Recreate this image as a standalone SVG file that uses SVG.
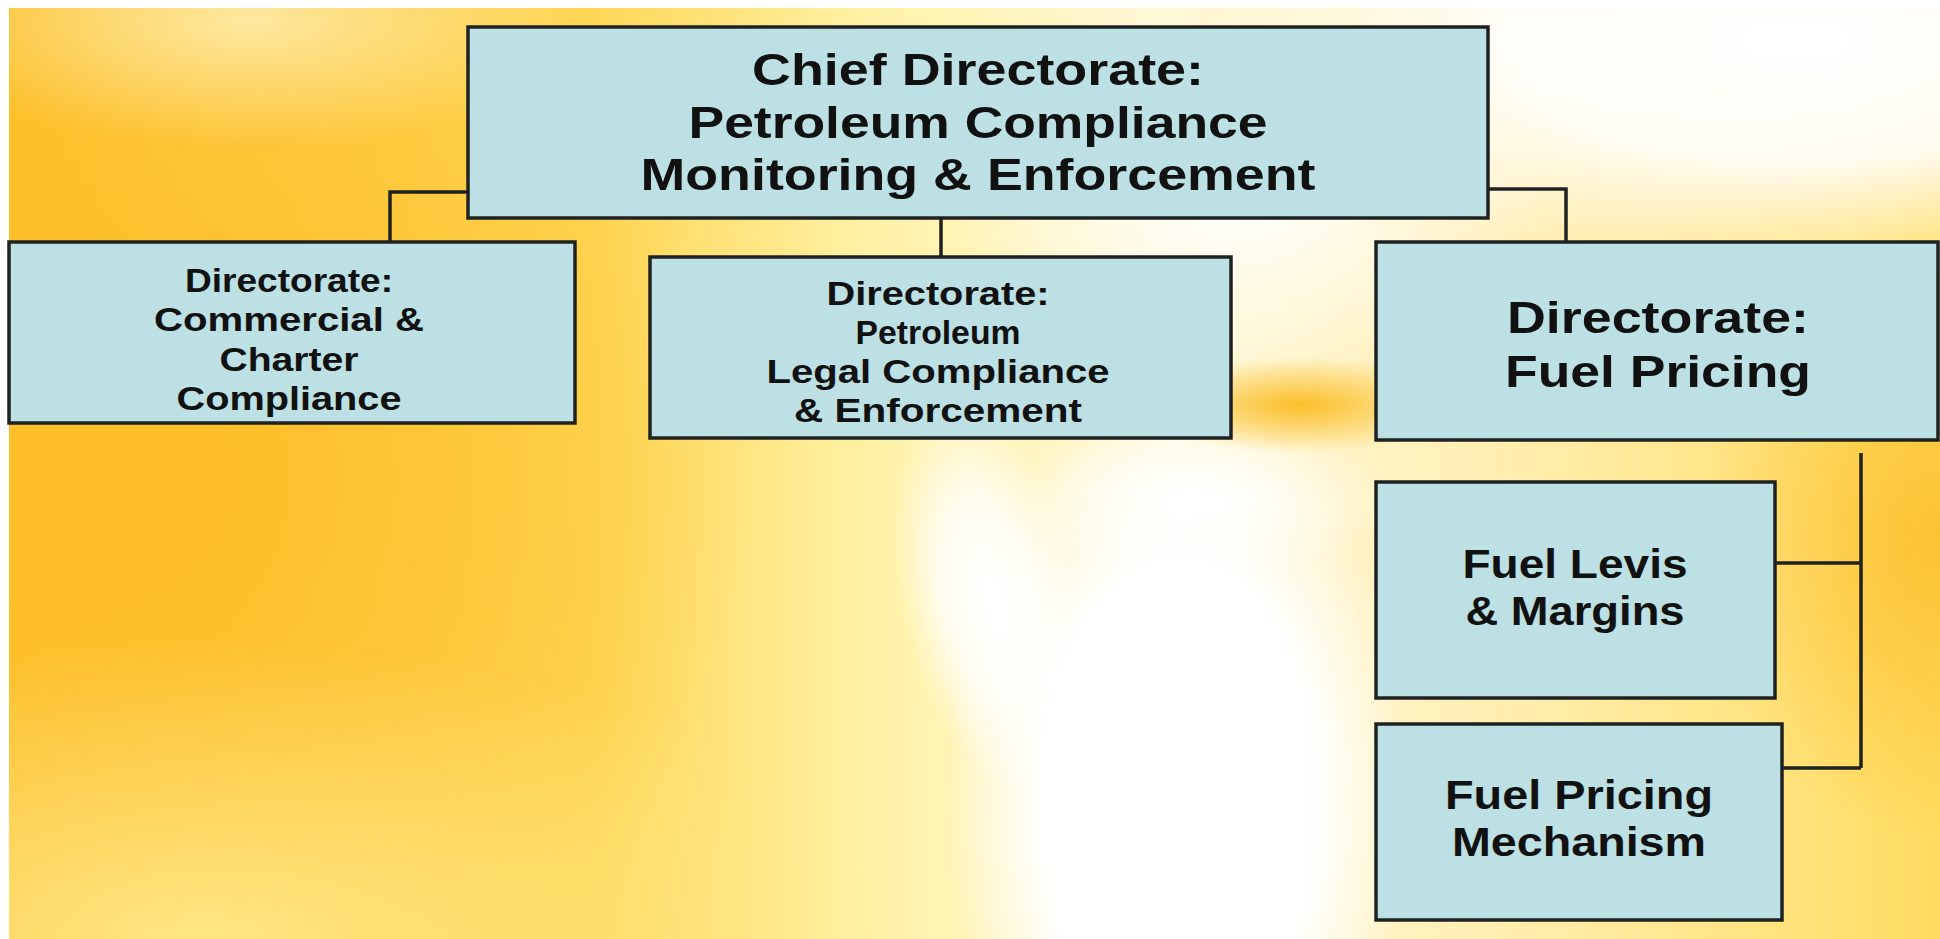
<svg xmlns="http://www.w3.org/2000/svg" width="1940" height="939" viewBox="0 0 1940 939">
<defs>
<linearGradient id="base" x1="0" y1="0" x2="1" y2="0">
<stop offset="0" stop-color="#FDC12E"/>
<stop offset="0.3" stop-color="#FED654"/>
<stop offset="0.45" stop-color="#FFF2A8"/>
<stop offset="0.6" stop-color="#FFF8D8"/>
<stop offset="0.75" stop-color="#FFF0B8"/>
<stop offset="1" stop-color="#FFDC60"/>
</linearGradient>
<radialGradient id="white1" cx="1180" cy="800" r="470" gradientUnits="userSpaceOnUse" gradientTransform="translate(1180 800) scale(0.5 0.85) translate(-1180 -800)">
<stop offset="0" stop-color="#FFFFFF" stop-opacity="1"/>
<stop offset="0.6" stop-color="#FFFFFF" stop-opacity="0.95"/>
<stop offset="1" stop-color="#FFFFFF" stop-opacity="0"/>
</radialGradient>
<radialGradient id="white4" cx="990" cy="600" r="200" gradientUnits="userSpaceOnUse" gradientTransform="translate(990 600) rotate(-12) scale(0.45 1) translate(-990 -600)">
<stop offset="0" stop-color="#FFFFFF" stop-opacity="1"/>
<stop offset="0.5" stop-color="#FFFFFF" stop-opacity="0.8"/>
<stop offset="1" stop-color="#FFFFFF" stop-opacity="0"/>
</radialGradient>
<radialGradient id="white5" cx="1200" cy="500" r="200" gradientUnits="userSpaceOnUse" gradientTransform="translate(1200 500) scale(1 0.4) translate(-1200 -500)">
<stop offset="0" stop-color="#FFFFFF" stop-opacity="1"/>
<stop offset="1" stop-color="#FFFFFF" stop-opacity="0"/>
</radialGradient>
<radialGradient id="white2" cx="1800" cy="40" r="600" gradientUnits="userSpaceOnUse" gradientTransform="translate(1800 40) scale(1 0.4) translate(-1800 -40)">
<stop offset="0" stop-color="#FFFFFF" stop-opacity="1"/>
<stop offset="0.5" stop-color="#FFFFFF" stop-opacity="0.9"/>
<stop offset="1" stop-color="#FFFFFF" stop-opacity="0"/>
</radialGradient>
<radialGradient id="white3" cx="1250" cy="200" r="300" gradientUnits="userSpaceOnUse" gradientTransform="translate(1250 200) scale(1 0.6) translate(-1250 -200)">
<stop offset="0" stop-color="#FFFFFF" stop-opacity="0.95"/>
<stop offset="1" stop-color="#FFFFFF" stop-opacity="0"/>
</radialGradient>
<radialGradient id="orange1" cx="1300" cy="405" r="160" gradientUnits="userSpaceOnUse" gradientTransform="translate(1300 405) scale(1 0.3) translate(-1300 -405)">
<stop offset="0" stop-color="#FBBE28" stop-opacity="1"/>
<stop offset="1" stop-color="#FBBE28" stop-opacity="0"/>
</radialGradient>
<radialGradient id="orange2" cx="1940" cy="540" r="300" gradientUnits="userSpaceOnUse" gradientTransform="translate(1940 540) scale(0.8 1) translate(-1940 -540)">
<stop offset="0" stop-color="#FCC232" stop-opacity="1"/>
<stop offset="1" stop-color="#FCC232" stop-opacity="0"/>
</radialGradient>
<radialGradient id="orange3" cx="150" cy="480" r="600" gradientUnits="userSpaceOnUse">
<stop offset="0" stop-color="#FDBD28" stop-opacity="1"/>
<stop offset="1" stop-color="#FDBD28" stop-opacity="0"/>
</radialGradient>
<radialGradient id="pale1" cx="250" cy="20" r="260" gradientUnits="userSpaceOnUse" gradientTransform="translate(250 20) scale(1.3 0.5) translate(-250 -20)">
<stop offset="0" stop-color="#FDE8A0" stop-opacity="1"/>
<stop offset="1" stop-color="#FDE8A0" stop-opacity="0"/>
</radialGradient>
<radialGradient id="pale2" cx="200" cy="939" r="500" gradientUnits="userSpaceOnUse" gradientTransform="translate(200 939) scale(1.4 0.6) translate(-200 -939)">
<stop offset="0" stop-color="#FFE98C" stop-opacity="0.9"/>
<stop offset="1" stop-color="#FFE98C" stop-opacity="0"/>
</radialGradient>
</defs>
<style>
.box{fill:#BCE0E3;stroke:#1E2222;stroke-width:3.5}
.conn{fill:none;stroke:#1E2222;stroke-width:3.5}
text{font-family:"Liberation Sans",Arial,sans-serif;font-weight:bold;fill:#111;text-anchor:middle}
.t1{font-size:45px}
.t2{font-size:34px}
.t3{font-size:45px}
.t4{font-size:40px}
</style>
<rect x="0" y="0" width="1940" height="939" fill="#FFFFFF"/>
<g id="background">
<rect x="9" y="8" width="1931" height="931" fill="url(#base)"/>
<rect x="9" y="8" width="1931" height="931" fill="url(#orange3)"/>
<rect x="9" y="8" width="1931" height="931" fill="url(#pale2)"/>
<rect x="9" y="8" width="1931" height="931" fill="url(#pale1)"/>
<rect x="9" y="8" width="1931" height="931" fill="url(#white3)"/>
<rect x="9" y="8" width="1931" height="931" fill="url(#white1)"/>
<rect x="9" y="8" width="1931" height="931" fill="url(#white4)"/>
<rect x="9" y="8" width="1931" height="931" fill="url(#white5)"/>
<rect x="9" y="8" width="1931" height="931" fill="url(#white2)"/>
<rect x="9" y="8" width="1931" height="931" fill="url(#orange1)"/>
<rect x="9" y="8" width="1931" height="931" fill="url(#orange2)"/>
</g>
<g id="connectors">
<polyline class="conn" points="468,192 390,192 390,242"/>
<line class="conn" x1="941" y1="210" x2="941" y2="257"/>
<polyline class="conn" points="1488,189 1566,189 1566,242"/>
<line class="conn" x1="1861" y1="453" x2="1861" y2="768"/>
<line class="conn" x1="1775" y1="563" x2="1861" y2="563"/>
<line class="conn" x1="1778" y1="768" x2="1861" y2="768"/>
</g>
<g id="chief">
<rect class="box" x="468" y="27" width="1020" height="191"/>
<text class="t1" x="978" y="85" textLength="452" lengthAdjust="spacingAndGlyphs">Chief Directorate:</text>
<text class="t1" x="978" y="138" textLength="579" lengthAdjust="spacingAndGlyphs">Petroleum Compliance</text>
<text class="t1" x="978" y="190" textLength="675" lengthAdjust="spacingAndGlyphs">Monitoring &amp; Enforcement</text>
</g>
<g id="commercial">
<rect class="box" x="9" y="242" width="566" height="181"/>
<text class="t2" x="289" y="292" textLength="208" lengthAdjust="spacingAndGlyphs">Directorate:</text>
<text class="t2" x="289" y="331" textLength="270" lengthAdjust="spacingAndGlyphs">Commercial &amp;</text>
<text class="t2" x="289" y="371" textLength="139" lengthAdjust="spacingAndGlyphs">Charter</text>
<text class="t2" x="289" y="410" textLength="225" lengthAdjust="spacingAndGlyphs">Compliance</text>
</g>
<g id="legal">
<rect class="box" x="650" y="257" width="581" height="181"/>
<text class="t2" x="938" y="305" textLength="223" lengthAdjust="spacingAndGlyphs">Directorate:</text>
<text class="t2" x="938" y="344" textLength="165" lengthAdjust="spacingAndGlyphs">Petroleum</text>
<text class="t2" x="938" y="383" textLength="343" lengthAdjust="spacingAndGlyphs">Legal Compliance</text>
<text class="t2" x="938" y="422" textLength="288" lengthAdjust="spacingAndGlyphs">&amp; Enforcement</text>
</g>
<g id="fuel-pricing">
<rect class="box" x="1376" y="242" width="562" height="198"/>
<text class="t3" x="1658" y="333" textLength="302" lengthAdjust="spacingAndGlyphs">Directorate:</text>
<text class="t3" x="1658" y="387" textLength="306" lengthAdjust="spacingAndGlyphs">Fuel Pricing</text>
</g>
<g id="fuel-levis">
<rect class="box" x="1376" y="482" width="399" height="216"/>
<text class="t4" x="1575" y="578" textLength="225" lengthAdjust="spacingAndGlyphs">Fuel Levis</text>
<text class="t4" x="1575" y="625" textLength="219" lengthAdjust="spacingAndGlyphs">&amp; Margins</text>
</g>
<g id="fuel-mechanism">
<rect class="box" x="1376" y="724" width="406" height="196"/>
<text class="t4" x="1579" y="809" textLength="268" lengthAdjust="spacingAndGlyphs">Fuel Pricing</text>
<text class="t4" x="1579" y="856" textLength="254" lengthAdjust="spacingAndGlyphs">Mechanism</text>
</g>
</svg>
